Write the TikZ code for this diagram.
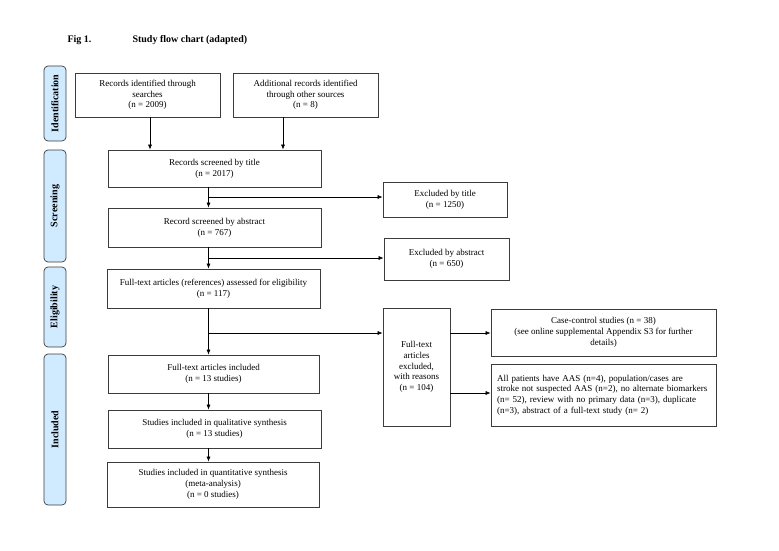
\documentclass[tikz,border=0pt]{standalone}
\usepackage{fontspec}
\setmainfont{Liberation Serif}
\usetikzlibrary{arrows.meta}
\definecolor{tabblue}{RGB}{208,234,255}
\definecolor{boxline}{RGB}{60,60,60}
\begin{document}
\begin{tikzpicture}[x=1pt,y=-1pt,
  box/.style={draw=boxline, line width=0.7pt, align=center, inner sep=2pt,
    font=\fontsize{9}{10.7}\selectfont},
  tab/.style={draw=boxline, line width=0.7pt, fill=tabblue, rounded corners=4pt,
    rotate=90, minimum height=22pt, inner sep=0pt, font=\fontsize{10}{12}\selectfont\bfseries},
  arr/.style={-{Latex[length=5pt,width=4pt]}, line width=0.6pt, draw=black},
  ttl/.style={anchor=west, font=\fontsize{10}{12}\selectfont\bfseries}]
\fill[white] (0,0) rectangle (779,551);
\useasboundingbox (0,0) rectangle (779,551);

% title
\node[ttl] (fig) at (64,40) {Fig 1.};
\node[ttl] (title) at (129,40) {Study flow chart (adapted)};

% side tabs
\node[tab, minimum width=75pt] (tid) at (55,103.5) {Identification};
\node[tab, minimum width=112pt] (tsc) at (55,206) {Screening};
\node[tab, minimum width=80pt] (tel) at (55,307) {Eligibility};
\node[tab, minimum width=151pt] (tin) at (55,429.5) {Included};

% boxes
\node[box, minimum width=145pt, minimum height=44pt] (A) at (147.5,95)
  {Records identified through\\searches\\(n = 2009)};
\node[box, minimum width=145pt, minimum height=44pt] (B) at (305.5,95)
  {Additional records identified\\through other sources\\(n = 8)};
\node[box, minimum width=213pt, minimum height=37pt] (C) at (214.5,168.5)
  {Records screened by title\\(n = 2017)};
\node[box, minimum width=124pt, minimum height=35pt] (ExT) at (445,199.5)
  {Excluded by title\\(n = 1250)};
\node[box, minimum width=213pt, minimum height=39pt] (D) at (214.5,227.5)
  {Record screened by abstract\\(n = 767)};
\node[box, minimum width=125pt, minimum height=42pt] (ExA) at (446.5,259)
  {Excluded by abstract\\(n = 650)};
\node[box, minimum width=213pt, minimum height=39pt] (E) at (213.5,288.5)
  {Full-text articles (references) assessed for eligibility\\(n = 117)};
\node[box, minimum width=67pt, minimum height=118pt] (G) at (416.5,367)
  {Full-text\\articles\\excluded,\\with reasons\\(n = 104)};
\node[box, minimum width=225pt, minimum height=47pt] (H) at (603.5,332.5)
  {Case-control studies (n = 38)\\(see online supplemental Appendix S3 for further\\details)};
\node[box, minimum width=225pt, minimum height=62pt, text width=213pt, align=left, inner sep=6pt] (I) at (603.5,395)
  {All patients have AAS (n=4), population/cases are\\stroke not suspected AAS (n=2), no alternate biomarkers\\(n= 52), review with no primary data (n=3), duplicate\\(n=3), abstract of a full-text study (n= 2)};
\node[box, minimum width=211pt, minimum height=38pt] (F) at (213.5,374)
  {Full-text articles included\\(n = 13 studies)};
\node[box, minimum width=213pt, minimum height=38pt] (J) at (214.5,429)
  {Studies included in qualitative synthesis\\(n = 13 studies)};
\node[box, minimum width=212pt, minimum height=45pt] (K) at (213,484.5)
  {Studies included in quantitative synthesis\\(meta-analysis)\\(n = 0 studies)};

% spine and branch points
\coordinate (ax) at (150,0);
\coordinate (bx) at (283,0);
\coordinate (sp) at (208.5,0);
\coordinate (b1) at (208.5,197);
\coordinate (b2) at (208.5,258);
\coordinate (b3) at (208.5,333);
\coordinate (g1) at (450,333);
\coordinate (g2) at (450,393);

% connectors
\draw[arr] (A.south -| ax) -- (C.north -| ax);
\draw[arr] (B.south -| bx) -- (C.north -| bx);
\draw[arr] (C.south -| sp) -- (D.north -| sp);
\draw[arr] (b1) -- (b1 -| ExT.west);
\draw[arr] (D.south -| sp) -- (E.north -| sp);
\draw[arr] (b2) -- (b2 -| ExA.west);
\draw[arr] (E.south -| sp) -- (F.north -| sp);
\draw[arr] (b3) -- (b3 -| G.west);
\draw[arr] (g1 -| G.east) -- (g1 -| H.west);
\draw[arr] (g2 -| G.east) -- (g2 -| I.west);
\draw[arr] (F.south -| sp) -- (J.north -| sp);
\draw[arr] (J.south -| sp) -- (K.north -| sp);
\end{tikzpicture}
\end{document}
